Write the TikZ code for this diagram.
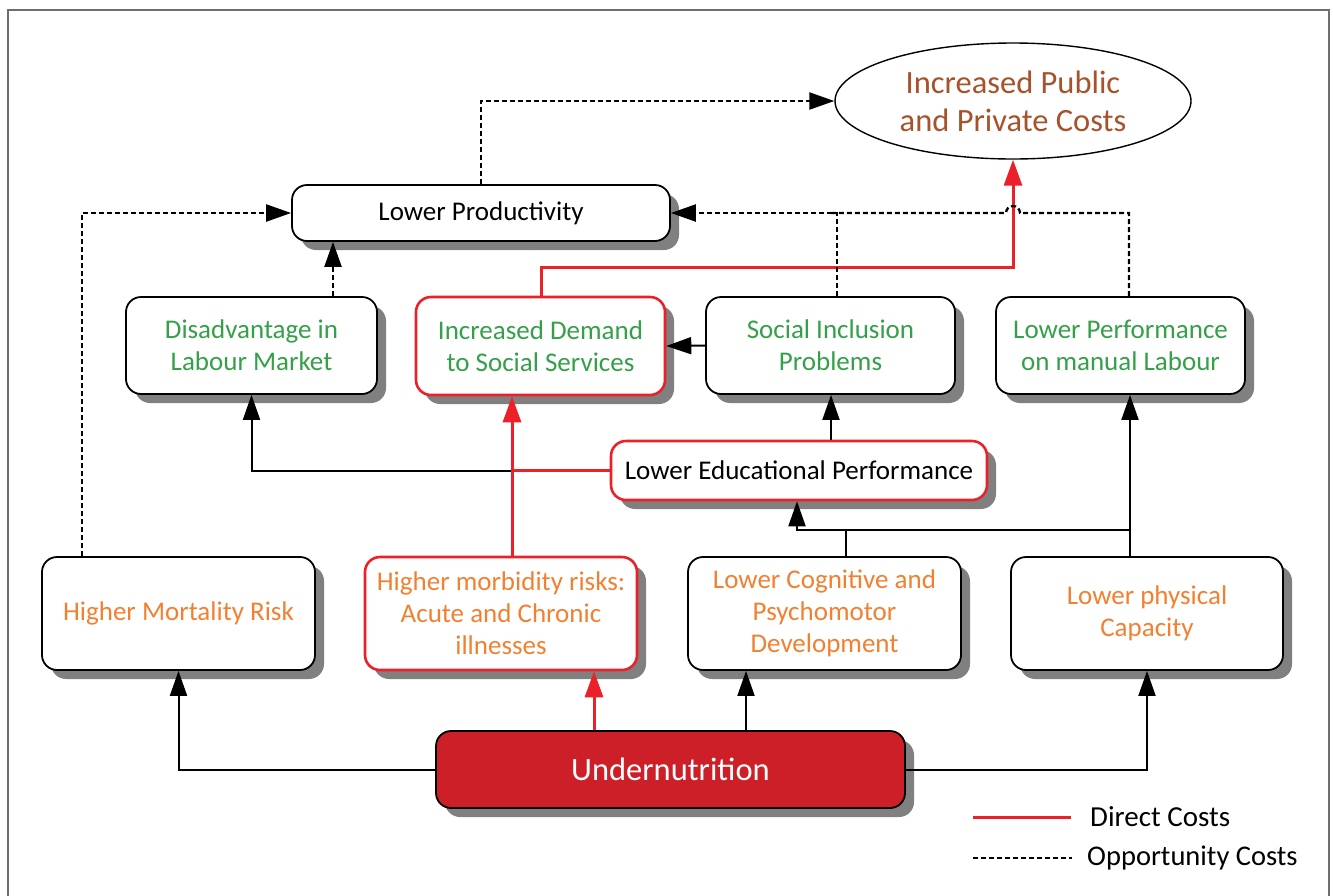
\documentclass[tikz,border=0pt]{standalone}
\usepackage{fontspec}
\setmainfont{Carlito}
\usetikzlibrary{arrows.meta,shadows,shapes.geometric}
\definecolor{tgreen}{RGB}{52,160,72}
\definecolor{torange}{RGB}{243,128,48}
\definecolor{tbrown}{RGB}{166,82,42}
\definecolor{tred}{RGB}{236,32,40}
\definecolor{ufill}{RGB}{204,31,39}
\definecolor{shadowgray}{RGB}{128,128,128}
\definecolor{framegray}{RGB}{110,110,110}
\tikzset{
  box/.style={draw=black, line width=1.8pt, rounded corners=15pt, fill=white, align=center,
    inner sep=0pt, font=\fontsize{27}{32}\selectfont,
    drop shadow={shadow xshift=9pt, shadow yshift=-9pt, fill=shadowgray, opacity=1}},
  redbox/.style={box, draw=tred, line width=2.6pt},
  conn/.style={line width=2pt, -{Triangle[length=25pt,width=17pt]}},
  plain/.style={line width=2pt},
  redconn/.style={line width=3pt, tred, -{Triangle[length=26pt,width=18pt]}},
  redplain/.style={line width=3pt, tred},
  dconn/.style={line width=2.3pt, dash pattern=on 5pt off 3pt, -{Triangle[length=25pt,width=17pt]}},
  dplain/.style={line width=2.3pt, dash pattern=on 5pt off 3pt},
}
\begin{document}
\begin{tikzpicture}[x=1pt,y=-1pt]
\useasboundingbox (0,0) rectangle (1333,895);
\fill[white] (0,0) rectangle (1333,895);
\draw[framegray, line width=2pt] (8,10) rectangle (1329,930);

% nodes
\node[ellipse, draw=black, line width=1.4pt, fill=white, minimum width=356pt, minimum height=116pt,
  inner sep=0pt, align=center, text=tbrown, font=\fontsize{32.5}{38}\selectfont] (ell) at (1013,101)
  {Increased Public\\and Private Costs};
\node[box, minimum width=378pt, minimum height=56pt] (prod) at (481,213) {Lower Productivity};
\node[box, minimum width=251pt, minimum height=97pt, text=tgreen] (disadv) at (251.5,345.5) {Disadvantage in\\Labour Market};
\node[redbox, minimum width=249pt, minimum height=98pt, text=tgreen] (demand) at (540.5,346) {Increased Demand\\to Social Services};
\node[box, minimum width=249pt, minimum height=97pt, text=tgreen] (social) at (830.5,345.5) {Social Inclusion\\Problems};
\node[box, minimum width=249pt, minimum height=97pt, text=tgreen] (manual) at (1120.5,345.5) {Lower Performance\\on manual Labour};
\node[redbox, minimum width=376pt, minimum height=59pt] (edu) at (799,470.5) {Lower Educational Performance};
\node[box, minimum width=273pt, minimum height=113pt, text=torange] (mort) at (178.5,613.5) {Higher Mortality Risk};
\node[redbox, minimum width=272pt, minimum height=113pt, text=torange] (morb) at (501,613.5) {Higher morbidity risks:\\Acute and Chronic\\illnesses};
\node[box, minimum width=273pt, minimum height=113pt, text=torange] (cog) at (824.5,613.5) {Lower Cognitive and\\Psychomotor\\Development};
\node[box, minimum width=272pt, minimum height=113pt, text=torange] (phys) at (1147,613.5) {Lower physical\\Capacity};
\node[box, draw=black, fill=ufill, text=white, minimum width=469pt, minimum height=77pt,
  font=\fontsize{32.5}{38}\selectfont] (under) at (670.5,769.5) {Undernutrition};

% connectors from undernutrition
\draw[conn] (under.west) -| (mort.south);
\draw[redconn] (under.north -| 594,0) -- (morb.south -| 594,0);
\draw[conn] (under.north -| 746,0) -- (cog.south -| 746,0);
\draw[conn] (under.east) -| (phys.south);

% second level
\draw[dconn] (mort.north -| 82,0) |- (prod.west);
\draw[conn] (edu.west) -| (disadv.south);
\draw[redplain] (edu.west) -- (edu.west -| 512,0);
\draw[redconn] (morb.north -| 512,0) -- (demand.south -| 512,0);
\coordinate (j1) at (797,530);
\coordinate (j2) at (1130,530);
\draw[conn] (cog.north -| 846,0) |- (j1) -- (edu.south -| j1);
\draw[plain] (j1) -- (j2);
\draw[conn] (phys.north -| j2) -- (manual.south -| j2);
\draw[conn] (edu.north -| 831,0) -- (social.south -| 831,0);
\draw[conn] (social.west) -- (demand.east);

% top level
\draw[redconn] (demand.north -| 541,0) |- (ell.south |- 0,267) -- (ell.south);
\draw[dconn] (disadv.north -| 333,0) -- (prod.south -| 333,0);
\draw[dconn] (social.north -| 837,0) |- (prod.east);
\coordinate (hopR) at (1020,213);
\coordinate (hopL) at (1006,213);
\draw[dplain] (manual.north -| 1129,0) |- (hopR) arc[start angle=0, end angle=180, radius=7pt] -- (social.north |- hopL) ;
\draw[dconn] (prod.north) |- (ell.west);

% legend
\coordinate (l1a) at (973,817); \coordinate (l1b) at (1071,817);
\coordinate (l2a) at (973,858); \coordinate (l2b) at (1072,858);
\draw[redplain] (l1a) -- (l1b);
\draw[dplain] (l2a) -- (l2b);
\node[anchor=west, font=\fontsize{29}{32}\selectfont, inner sep=0pt] (lt1) at (1090,817) {Direct Costs};
\node[anchor=west, font=\fontsize{28.5}{32}\selectfont, inner sep=0pt] (lt2) at (1087,858) {Opportunity Costs};
\end{tikzpicture}
\end{document}
